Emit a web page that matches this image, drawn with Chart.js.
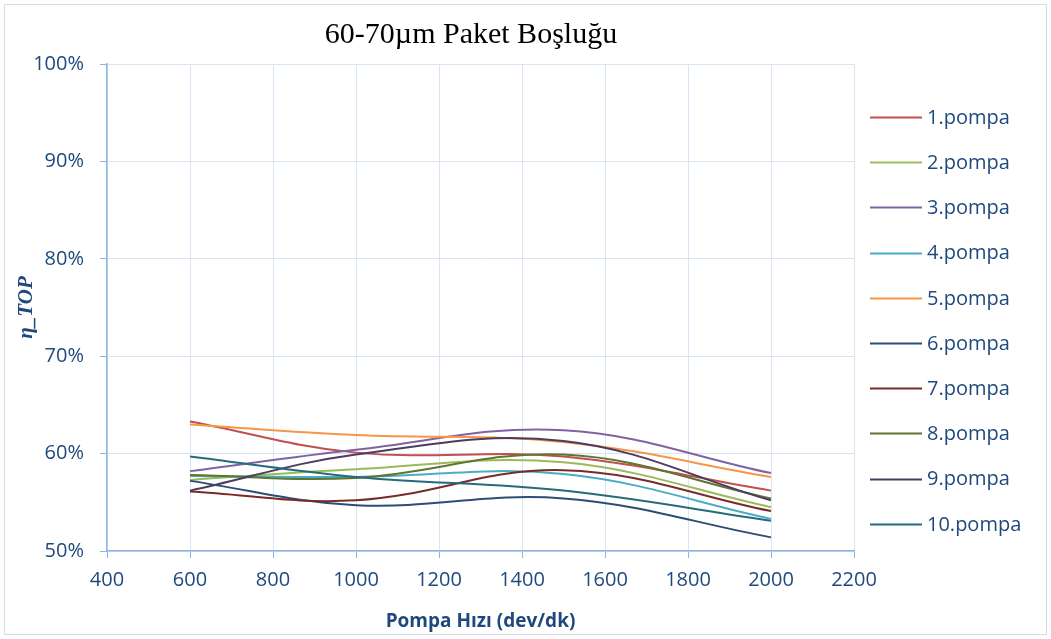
<!DOCTYPE html>
<html>
<head>
<meta charset="utf-8">
<script src="https://cdn.jsdelivr.net/npm/chart.js@4/dist/chart.umd.min.js"></script>
<style>
  html, body { margin: 0; padding: 0; background: #ffffff; }
  #wrap { width: 1051px; height: 639px; position: relative; }
</style>
</head>
<body>
<div id="wrap"><canvas id="c" width="1051" height="639"></canvas></div>
<script>
const chartTitle = '60-70µm Paket Boşluğu';
const xTitle = 'Pompa Hızı (dev/dk)';
const yTitle = 'η_TOP';
const speeds = [600, 1000, 1500, 2000];
const xTickValues = [400, 600, 800, 1000, 1200, 1400, 1600, 1800, 2000, 2200];
const yTickValues = [50, 60, 70, 80, 90, 100];
const yTickLabels = ['50%', '60%', '70%', '80%', '90%', '100%'];
const seriesNames = ['1.pompa', '2.pompa', '3.pompa', '4.pompa', '5.pompa', '6.pompa', '7.pompa', '8.pompa', '9.pompa', '10.pompa'];
const pompa1 = [63.3, 60.1, 59.7, 56.2];
const pompa2 = [57.3, 58.4, 59.1, 54.5];
const pompa3 = [58.2, 60.4, 62.4, 58.0];
const pompa4 = [57.7, 57.6, 57.9, 53.3];
const pompa5 = [63.0, 61.9, 61.2, 57.6];
const pompa6 = [57.2, 54.7, 55.4, 51.4];
const pompa7 = [56.1, 55.2, 58.3, 54.1];
const pompa8 = [57.8, 57.5, 59.9, 55.4];
const pompa9 = [56.2, 59.9, 61.3, 55.2];
const pompa10 = [59.7, 57.6, 56.2, 53.1];
const seriesValues = [pompa1, pompa2, pompa3, pompa4, pompa5, pompa6, pompa7, pompa8, pompa9, pompa10];
const seriesColors = ['#C0504D', '#9BBB59', '#8064A2', '#4BACC6', '#F79646', '#2C4D75', '#772C2A', '#5F7530', '#4D3B62', '#276A7C'];

const textColor = '#1F497D';
const gridColor = '#D9E4F4';
const axisColor = '#8FB3E2';

const datasets = seriesNames.map((name, i) => ({
  label: name,
  data: speeds.map((x, j) => ({ x: x, y: seriesValues[i][j] })),
  borderColor: seriesColors[i],
  backgroundColor: seriesColors[i],
  borderWidth: 2,
  pointRadius: 0,
  pointHoverRadius: 0,
  showLine: true,
  fill: false,
  tension: 0.38,
  order: seriesNames.length - i
}));

const decorPlugin = {
  id: 'decor',
  beforeDraw(chart) {
    const ctx = chart.ctx;
    ctx.save();
    ctx.fillStyle = '#ffffff';
    ctx.fillRect(0, 0, chart.width, chart.height);
    ctx.strokeStyle = '#D5DCE6';
    ctx.lineWidth = 1;
    ctx.strokeRect(4.5, 4.5, 1042, 630);
    ctx.restore();
  },
  afterDraw(chart) {
    const ctx = chart.ctx;
    ctx.save();
    // title
    ctx.fillStyle = '#000000';
    ctx.font = '30px "Liberation Serif", "Times New Roman", serif';
    ctx.textAlign = 'center';
    ctx.textBaseline = 'alphabetic';
    ctx.fillText(chartTitle, 471, 43);
    // legend
    const ds = chart.data.datasets;
    const startY = 117;
    const stepY = 45.2;
    ctx.font = '20px "Open Sans", sans-serif';
    ctx.textAlign = 'left';
    ctx.textBaseline = 'middle';
    ds.forEach((d, i) => {
      const y = startY + i * stepY;
      ctx.strokeStyle = d.borderColor;
      ctx.lineWidth = 2;
      ctx.beginPath();
      ctx.moveTo(870, Math.round(y) + 0.5);
      ctx.lineTo(922, Math.round(y) + 0.5);
      ctx.stroke();
      ctx.fillStyle = textColor;
      ctx.fillText(d.label, 927, y + 1);
    });
    ctx.restore();
  }
};

new Chart(document.getElementById('c'), {
  type: 'scatter',
  data: { datasets: datasets },
  plugins: [decorPlugin],
  options: {
    responsive: false,
    animation: false,
    events: [],
    layout: { padding: { top: 64, right: 197, left: 0, bottom: 0 } },
    plugins: {
      legend: { display: false },
      title: { display: false },
      tooltip: { enabled: false }
    },
    scales: {
      x: {
        type: 'linear',
        min: 400,
        max: 2200,
        afterFit(scale) { scale.height = 88; },
        afterBuildTicks(scale) { scale.ticks = xTickValues.map(v => ({ value: v })); },
        ticks: {
          color: textColor,
          font: { family: '"Open Sans", sans-serif', size: 20 },
          padding: 10,
          maxRotation: 0,
          autoSkip: false,
          callback: (v) => String(v)
        },
        grid: { color: gridColor, lineWidth: 1, drawTicks: true, tickLength: 7, tickColor: axisColor },
        border: { color: axisColor, width: 1.5 },
        title: {
          display: true,
          text: xTitle,
          color: textColor,
          font: { family: '"Open Sans", sans-serif', size: 19, weight: 'bold' },
          padding: { top: 0, bottom: 6 }
        }
      },
      y: {
        type: 'linear',
        min: 50,
        max: 100,
        afterFit(scale) { scale.width = 107; },
        afterBuildTicks(scale) { scale.ticks = yTickValues.map(v => ({ value: v })); },
        ticks: {
          color: textColor,
          font: { family: '"Open Sans", sans-serif', size: 20 },
          padding: 16,
          autoSkip: false,
          callback: (v) => yTickLabels[yTickValues.indexOf(v)]
        },
        grid: { color: gridColor, lineWidth: 1, drawTicks: true, tickLength: 7, tickColor: axisColor },
        border: { color: axisColor, width: 1.5 },
        title: {
          display: true,
          text: yTitle,
          color: textColor,
          font: { family: '"Liberation Serif", serif', size: 21, weight: 'bold', style: 'italic' },
          padding: { top: 14, bottom: 0 }
        }
      }
    }
  }
});
</script>
</body>
</html>
